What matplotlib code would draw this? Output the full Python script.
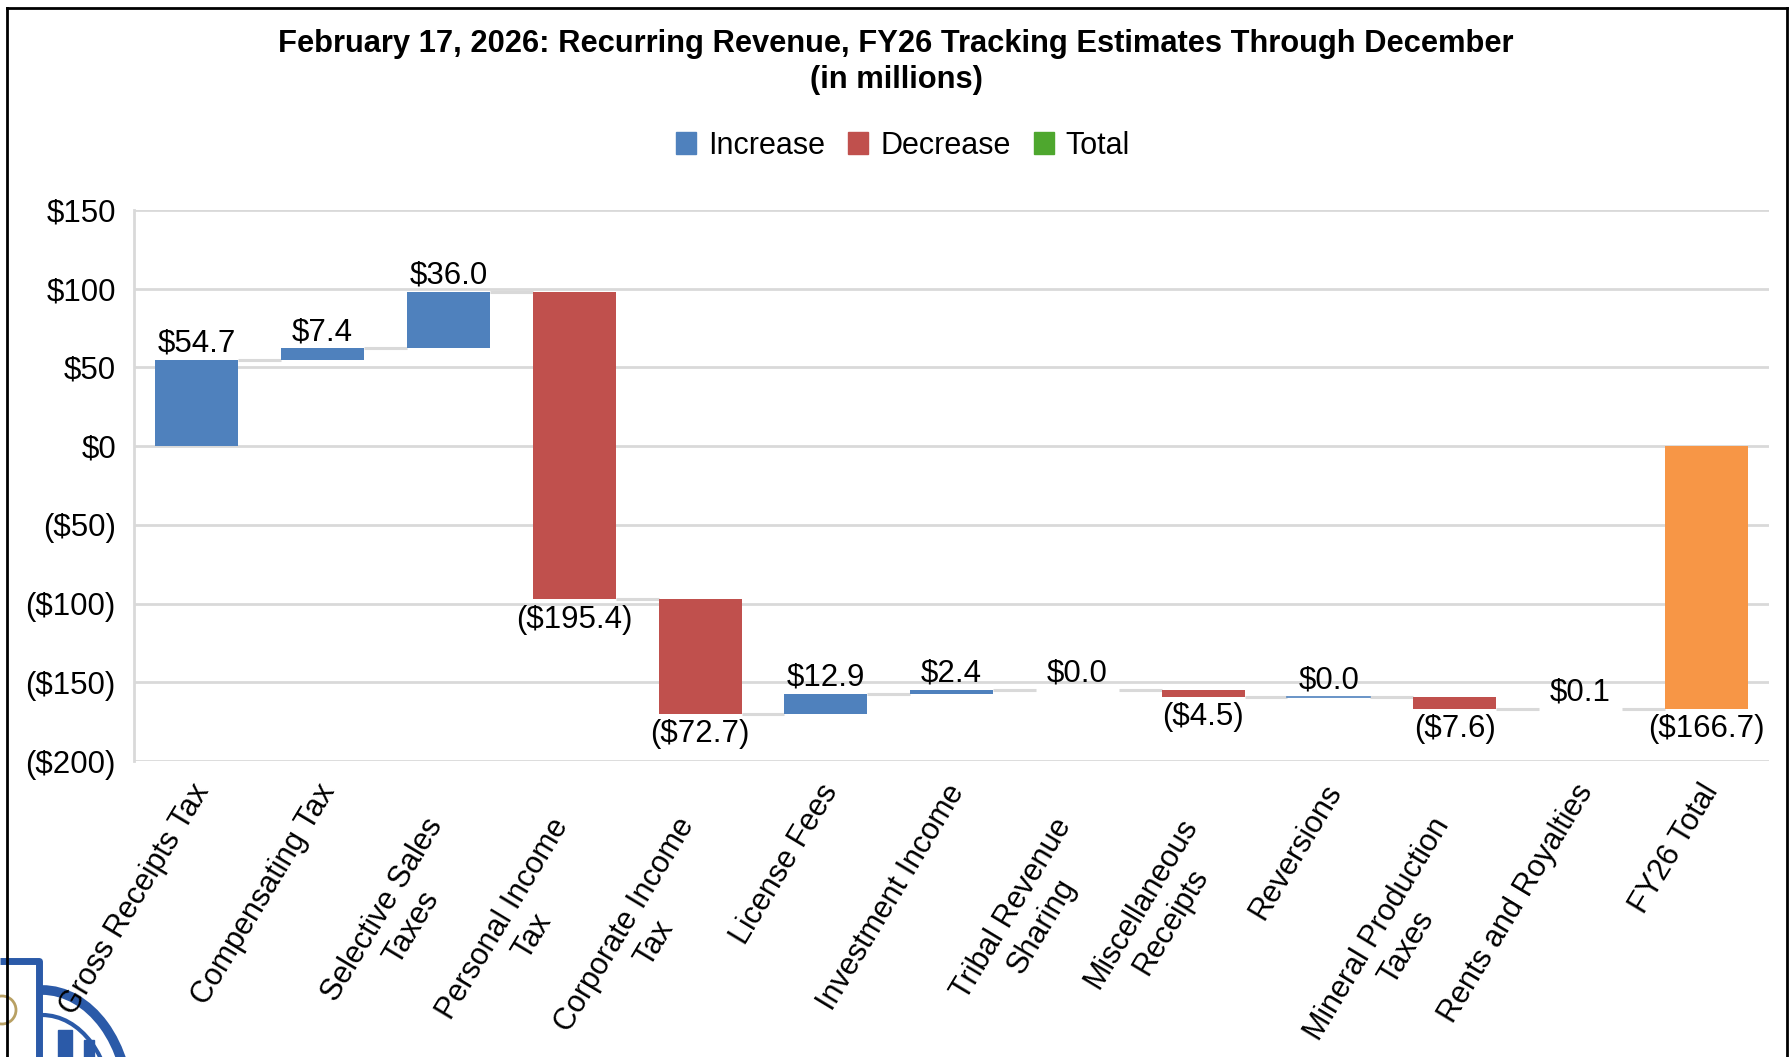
import numpy as np
import matplotlib.pyplot as plt
from matplotlib.patches import Patch, Arc, Circle, Rectangle
from matplotlib.lines import Line2D
from matplotlib.transforms import ScaledTranslation

plt.rcParams['font.family'] = ['Liberation Sans', 'DejaVu Sans']

categories = [
    "Gross Receipts Tax", "Compensating Tax", "Selective Sales\nTaxes",
    "Personal Income\nTax", "Corporate Income\nTax", "License Fees",
    "Investment Income", "Tribal Revenue\nSharing", "Miscellaneous\nReceipts",
    "Reversions", "Mineral Production\nTaxes", "Rents and Royalties", "FY26 Total",
]
changes = [54.7, 7.4, 36.0, -195.4, -72.7, 12.9, 2.4, 0.0, -4.5, 0.0, -7.6, 0.1]
total = -166.7
yticks = [150, 100, 50, 0, -50, -100, -150, -200]

c_inc = "#4F81BD"
c_dec = "#C0504D"
c_tot = "#F79646"
c_leg_tot = "#4EA72E"
c_grid = "#D9D9D9"
c_logo = "#2B5AA8"


def money(v):
    return f"(${abs(v):.1f})" if v < 0 else f"${v:.1f}"


fig = plt.figure(figsize=(17.92, 10.57), dpi=100)

# rough stand-in for the logo peeking in at the bottom-left corner
bg = fig.add_axes([0, 0, 1, 1])
bg.set_xlim(0, 1792)
bg.set_ylim(1057, 0)
bg.axis('off')
bg.plot([0, 39, 39], [961, 961, 1057], color=c_logo, lw=5, solid_capstyle='butt')
bg.add_patch(Arc((42, 1110), 175, 240, theta1=270, theta2=360, color=c_logo, lw=7))
bg.add_patch(Arc((42, 1110), 140, 190, theta1=270, theta2=360, color=c_logo, lw=3))
bg.add_patch(Rectangle((58, 1030), 14, 27, color=c_logo))
bg.add_patch(Rectangle((84, 1040), 10, 17, color=c_logo))
bg.add_patch(Circle((2, 1010), 14, fill=False, color="#B8A063", lw=2))

ax = fig.add_axes([0.0748, 0.280, 0.9124, 0.5213])

x = np.arange(len(categories))
width = 0.66
starts = np.concatenate([[0.0], np.cumsum(changes)[:-1]])
ends = np.cumsum(changes)

bottoms = list(starts) + [0.0]
heights = list(changes) + [total]
colors = [c_inc if v >= 0 else c_dec for v in changes] + [c_tot]

ax.bar(x, heights, bottom=bottoms, width=width, color=colors, zorder=3)

# Reversions is a zero change but still shows as a thin blue line
ax.plot([x[9] - width / 2, x[9] + width / 2], [starts[9], starts[9]],
        color=c_inc, lw=1.2, zorder=4)

# connectors
for i in range(len(categories) - 1):
    ax.plot([x[i] + width / 2, x[i + 1] - width / 2], [ends[i], ends[i]],
            color=c_grid, lw=2.2, zorder=2, solid_capstyle='butt')

# data labels
for i in range(len(categories)):
    if i < len(changes):
        val = changes[i]
        top = max(starts[i], ends[i])
        bot = min(starts[i], ends[i])
    else:
        val, top, bot = total, 0.0, total
    if val >= 0:
        ax.annotate(money(val), (x[i], top), xytext=(0, 1), textcoords='offset points',
                    ha='center', va='bottom', fontsize=22.5, zorder=5)
    else:
        ax.annotate(money(val), (x[i], bot), xytext=(0, -4), textcoords='offset points',
                    ha='center', va='top', fontsize=22.5, zorder=5)

ax.set_xlim(-0.5, len(categories) - 0.5)
ax.set_ylim(-200, 150)
ax.set_yticks(yticks)
ax.set_yticklabels([money(v).replace(".0", "") for v in yticks], fontsize=22.5)
ax.yaxis.grid(True, color=c_grid, lw=2, zorder=0)
ax.tick_params(axis='y', length=0, pad=13)
ax.tick_params(axis='x', length=0, pad=18)
for s in ["top", "right", "bottom"]:
    ax.spines[s].set_visible(False)
ax.spines["left"].set_color(c_grid)
ax.spines["left"].set_linewidth(2)

ax.set_xticks(x)
ax.set_xticklabels(categories, fontsize=22, rotation=59, ha='right', va='top',
                   rotation_mode='anchor', multialignment='center')
for lab in ax.get_xticklabels():
    if "\n" in lab.get_text():
        shift = ScaledTranslation(-0.25, -0.27, fig.dpi_scale_trans)
    else:
        shift = ScaledTranslation(-0.07, 0.07, fig.dpi_scale_trans)
    lab.set_transform(lab.get_transform() + shift)

fig.text(0.5, 0.973, "February 17, 2026: Recurring Revenue, FY26 Tracking Estimates Through December\n(in millions)",
         ha='center', va='top', fontsize=22.2, fontweight='bold', linespacing=1.3)

handles = [Patch(color=c_inc), Patch(color=c_dec), Patch(color=c_leg_tot)]
fig.legend(handles, ["Increase", "Decrease", "Total"], loc='center',
           bbox_to_anchor=(0.504, 0.862), ncol=3, frameon=False, fontsize=22,
           handlelength=0.65, handleheight=0.75, handletextpad=0.4, columnspacing=0.75)

# outer frame
fig.add_artist(Line2D([0.004, 0.004], [0.0, 0.992], transform=fig.transFigure, color='black', lw=2))
fig.add_artist(Line2D([0.004, 0.997], [0.992, 0.992], transform=fig.transFigure, color='black', lw=2))
fig.add_artist(Line2D([0.997, 0.997], [0.0, 0.992], transform=fig.transFigure, color='black', lw=2))

fig.savefig("out.png", dpi=100)
